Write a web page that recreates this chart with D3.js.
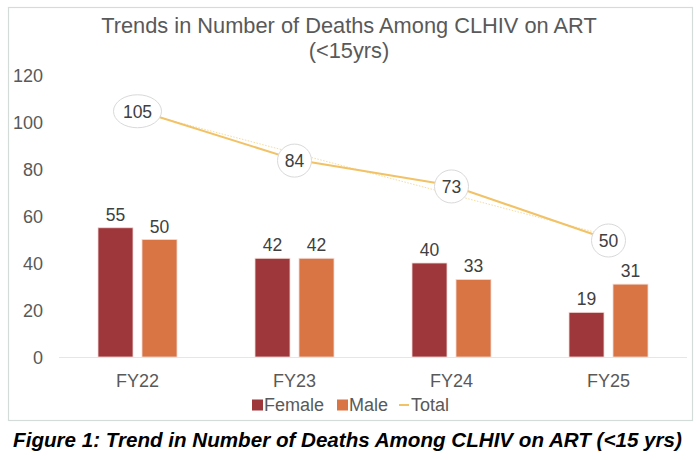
<!DOCTYPE html>
<html><head><meta charset="utf-8">
<script src="https://cdn.jsdelivr.net/npm/d3@7/dist/d3.min.js"></script>
<style>
body{margin:0;background:#fff;}
svg{display:block;font-family:"Liberation Sans",Arial,sans-serif;}
</style></head>
<body><svg id="c" width="700" height="460"></svg>
<script>
const categories = ["FY22","FY23","FY24","FY25"];
const female = [55,42,40,19];
const male = [50,42,33,31];
const total = [105,84,73,50];
const trendEnds = [104.4,51.6];
const yTicks = [0,20,40,60,80,100,120];
const seriesNames = ["Female","Male","Total"];

const svg = d3.select("#c");
const colF = "#9E373C", colM = "#D97545", colT = "#F2C266";
const axisFs = 18, labFs = 17.5;

// frame
svg.append("rect").attr("x",8.5).attr("y",7.5).attr("width",684).attr("height",413)
  .attr("fill","#fff").attr("stroke","#d3dcd8").attr("stroke-width",1.2);

// title
svg.append("text").attr("x",349).attr("y",33).attr("text-anchor","middle")
  .attr("font-size",21.8).attr("fill","#595959").text("Trends in Number of Deaths Among CLHIV on ART");
svg.append("text").attr("x",349).attr("y",58).attr("text-anchor","middle")
  .attr("font-size",21.8).attr("fill","#595959").text("(<15yrs)");

const x = d3.scaleBand().domain(categories).range([59,687]);
const y = d3.scaleLinear().domain([0,120]).range([357,75]);
const barW = 35, gap = 9;

// y axis labels
const yAxis = d3.axisLeft(y).tickValues(yTicks).tickSize(0).tickPadding(0);
const ya = svg.append("g").attr("transform","translate(43,0)").call(yAxis);
ya.select(".domain").remove();
ya.selectAll("text").attr("font-size",axisFs).attr("fill","#595959").attr("font-family","Liberation Sans, Arial, sans-serif").attr("dy","0.35em");

// baseline
svg.append("line").attr("x1",59).attr("x2",687).attr("y1",y(0)+0.5).attr("y2",y(0)+0.5)
  .attr("stroke","#e6e6e6").attr("stroke-width",1);

// x axis labels
const xAxis = d3.axisBottom(x).tickSize(0).tickPadding(0);
const xa = svg.append("g").attr("transform",`translate(0,${y(0)})`).call(xAxis);
xa.select(".domain").remove();
xa.selectAll("text").attr("font-size",axisFs).attr("fill","#595959").attr("font-family","Liberation Sans, Arial, sans-serif").attr("dy","0").attr("y",30);

// bars
function drawBars(vals, col, offset){
  svg.append("g").selectAll("rect").data(vals).join("rect")
    .attr("x",(d,i)=>x(categories[i])+x.bandwidth()/2+offset)
    .attr("y",d=>y(d)).attr("width",barW).attr("height",d=>y(0)-y(d))
    .attr("fill",col).attr("stroke","#f3dcd6").attr("stroke-width",0.8);
  svg.append("g").selectAll("text").data(vals).join("text")
    .attr("x",(d,i)=>x(categories[i])+x.bandwidth()/2+offset+barW/2)
    .attr("y",d=>y(d)-7).attr("text-anchor","middle")
    .attr("font-size",labFs).attr("fill","#404040").text(d=>d);
}
drawBars(female, colF, -gap/2-barW);
drawBars(male, colM, gap/2);

const cx = i => x(categories[i])+x.bandwidth()/2;

// trendline
svg.append("line").attr("x1",cx(0)).attr("y1",y(trendEnds[0]))
  .attr("x2",cx(3)).attr("y2",y(trendEnds[1]))
  .attr("stroke","#f7dca0").attr("stroke-width",1).attr("stroke-dasharray","1.5,1.5");

// total line
const line = d3.line().x((d,i)=>cx(i)).y(d=>y(d));
svg.append("path").datum(total).attr("d",line).attr("fill","none")
  .attr("stroke",colT).attr("stroke-width",2);

// labels in ellipses
const lg = svg.append("g").selectAll("g").data(total).join("g")
  .attr("transform",(d,i)=>`translate(${cx(i)},${y(d)+1})`);
lg.append("ellipse").attr("rx",d=>d>=100?24:17).attr("ry",16.5)
  .attr("fill","#fff").attr("stroke","#d9d9d9").attr("stroke-width",1);
lg.append("text").attr("text-anchor","middle").attr("dy","0.36em")
  .attr("font-size",labFs).attr("fill","#404040").text(d=>d);

// legend
const leg = svg.append("g").attr("transform","translate(0,405)");
leg.append("rect").attr("x",252).attr("y",-5.5).attr("width",11).attr("height",11).attr("fill",colF);
leg.append("text").attr("x",264).attr("y",0).attr("dy","0.36em").attr("font-size",axisFs).attr("fill","#595959").text(seriesNames[0]);
leg.append("rect").attr("x",337).attr("y",-5.5).attr("width",11).attr("height",11).attr("fill",colM);
leg.append("text").attr("x",349).attr("y",0).attr("dy","0.36em").attr("font-size",axisFs).attr("fill","#595959").text(seriesNames[1]);
leg.append("line").attr("x1",399).attr("x2",409).attr("y1",0).attr("y2",0).attr("stroke",colT).attr("stroke-width",2);
leg.append("text").attr("x",411).attr("y",0).attr("dy","0.36em").attr("font-size",axisFs).attr("fill","#595959").text(seriesNames[2]);

// caption
svg.append("text").attr("x",347.5).attr("y",447).attr("text-anchor","middle")
  .attr("font-size",20.6).attr("font-weight","bold").attr("font-style","italic").attr("fill","#000")
  .text("Figure 1: Trend in Number of Deaths Among CLHIV on ART (<15 yrs)");
</script></body></html>
